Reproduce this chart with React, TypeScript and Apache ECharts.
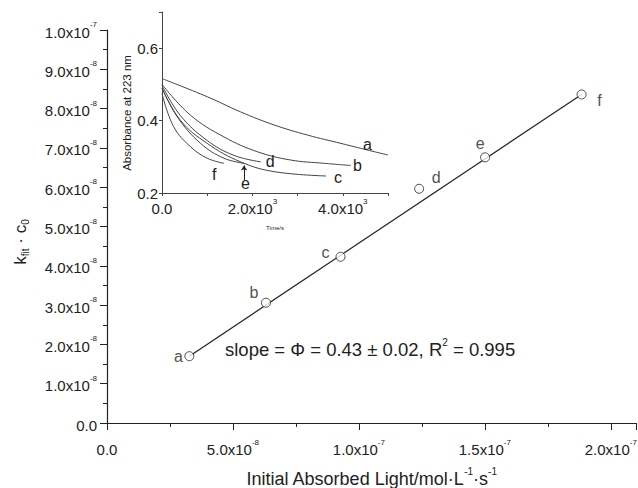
import React, { useEffect, useRef } from "react";
import * as echarts from "echarts";

// ---- Main plot data ----
const pointLabels = ["a", "b", "c", "d", "e", "f"];
const absorbedLight = [3.27e-8, 6.31e-8, 9.27e-8, 1.239e-7, 1.501e-7, 1.884e-7];
const kFitC0 = [1.7e-8, 3.06e-8, 4.23e-8, 5.96e-8, 6.76e-8, 8.36e-8];
const fitX = [3.27e-8, 1.884e-7];
const fitY = [1.7e-8, 8.36e-8];

// ---- Inset data (Absorbance at 223 nm vs Time/s) ----
const curveNames = ["a", "b", "c", "d", "e", "f"];
const timeA = [0, 1000, 1740, 2480, 3220, 3960, 4700, 5000];
const absA = [0.516, 0.466, 0.424, 0.388, 0.36, 0.337, 0.314, 0.305];
const timeB = [0, 630, 1370, 2110, 2850, 3590, 4180];
const absB = [0.5, 0.415, 0.355, 0.314, 0.291, 0.282, 0.276];
const timeC = [0, 407, 1000, 1740, 2480, 3630];
const absC = [0.49, 0.401, 0.337, 0.286, 0.259, 0.247];
const timeD = [0, 407, 1000, 1590, 2185];
const absD = [0.497, 0.414, 0.345, 0.304, 0.286];
const timeE = [0, 340, 855, 1370, 1815];
const absE = [0.49, 0.41, 0.337, 0.296, 0.282];
const timeF = [0, 258, 630, 1000, 1370];
const absF = [0.475, 0.383, 0.328, 0.296, 0.282];
const arrowTime = 1815;
const arrowAbs = [0.236, 0.276];

// ---- Styles ----
const FONT = "'Liberation Sans', Arial, sans-serif";
const INK = "#222";
const pointLabelOffsets = [
  [-11, 0],
  [-12, -10],
  [-15, -4],
  [17, -11],
  [-5, -14],
  [18, 6],
];
const curveLabelOffsets = [
  [-25, -10],
  [2, 0],
  [8, 2],
  [5, 0],
  [-3, 20],
  [-12, 11],
];

const supRich = (size: number, supSize: number) => ({
  m: { fontSize: size, fontFamily: FONT, color: INK, verticalAlign: "bottom", lineHeight: size + 4 },
  s: { fontSize: supSize, fontFamily: FONT, color: INK, verticalAlign: "top", lineHeight: supSize + 2 },
});

function sciLabel(v: number, step: number) {
  if (Math.abs(v) < 1e-20) return "{m|0.0}";
  const r = v / step;
  if (Math.abs(r - Math.round(r)) > 1e-6) return "";
  const exp = Math.floor(Math.log10(v) + 1e-9);
  const m = v / Math.pow(10, exp);
  return `{m|${m.toFixed(1)}x10}{s|${exp}}`;
}

export default function App() {
  const ref = useRef<HTMLDivElement>(null);
  useEffect(() => {
    if (!ref.current) return;
    const chart = echarts.init(ref.current, null, { renderer: "svg" });
    const insetTimes = [timeA, timeB, timeC, timeD, timeE, timeF];
    const insetAbs = [absA, absB, absC, absD, absE, absF];

    const insetSeries = curveNames.map((name, i) => ({
      type: "line",
      name,
      xAxisIndex: 1,
      yAxisIndex: 1,
      data: insetTimes[i].map((t, j) => [t, insetAbs[i][j]]),
      smooth: 0.4,
      showSymbol: false,
      symbol: "none",
      lineStyle: { color: "#444", width: 1 },
      endLabel: {
        show: true,
        formatter: name,
        distance: 0,
        offset: curveLabelOffsets[i],
        fontSize: 16,
        fontFamily: FONT,
        color: INK,
        textBorderWidth: 0,
      },
      markLine:
        name === "e"
          ? {
              silent: true,
              symbol: ["none", "arrow"],
              symbolSize: 5,
              label: { show: false },
              lineStyle: { color: INK, width: 1, type: "solid" },
              data: [[{ coord: [arrowTime, arrowAbs[0]] }, { coord: [arrowTime, arrowAbs[1]] }]],
            }
          : undefined,
    }));

    const option: any = {
      animation: false,
      textStyle: { fontFamily: FONT },
      grid: [
        { left: 107, top: 30, width: 529, height: 393, outerBoundsMode: "none", containLabel: false },
        { left: 162, top: 12, width: 226, height: 181, outerBoundsMode: "none", containLabel: false },
      ],
      xAxis: [
        {
          type: "value",
          gridIndex: 0,
          min: 0,
          max: 2.1e-7,
          interval: 5e-8,
          axisLine: { lineStyle: { color: INK, width: 1.2 } },
          axisTick: { length: 7, lineStyle: { color: INK } },
          minorTick: { show: true, splitNumber: 2, length: 4, lineStyle: { color: INK } },
          splitLine: { show: false },
          axisLabel: {
            margin: 15,
            showMaxLabel: false,
            formatter: (v: number) => sciLabel(v, 5e-8),
            rich: supRich(15, 8),
          },
          name: "{m|Initial Absorbed Light/mol·L}{s|-1}{m|·s}{s|-1}",
          nameLocation: "middle",
          nameGap: 43,
          nameTextStyle: { rich: supRich(18, 10) },
        },
        {
          type: "value",
          gridIndex: 1,
          min: 0,
          max: 5000,
          interval: 1000,
          axisLine: { lineStyle: { color: "#444", width: 1 } },
          axisTick: { length: 3, lineStyle: { color: "#444" } },
          splitLine: { show: false },
          axisLabel: {
            margin: 4,
            formatter: (v: number) => {
              if (v === 0) return "{m|0.0}";
              if (v % 2000 !== 0) return "";
              return `{m|${(v / 1000).toFixed(1)}x10}{s|3}`;
            },
            rich: supRich(15, 8),
          },
          name: "Time/s",
          nameLocation: "middle",
          nameGap: 32,
          nameTextStyle: { fontSize: 6, color: INK, fontFamily: FONT },
        },
      ],
      yAxis: [
        {
          type: "value",
          gridIndex: 0,
          min: 0,
          max: 1e-7,
          interval: 1e-8,
          axisLine: { show: true, lineStyle: { color: INK, width: 1.2 } },
          axisTick: { show: true, length: 7, lineStyle: { color: INK } },
          minorTick: { show: true, splitNumber: 2, length: 4, lineStyle: { color: INK } },
          splitLine: { show: false },
          axisLabel: {
            margin: 10,
            formatter: (v: number) => sciLabel(v, 1e-8),
            rich: supRich(15, 8),
          },
        },
        {
          type: "value",
          gridIndex: 1,
          min: 0.2,
          max: 0.7,
          interval: 0.2,
          axisLine: { show: true, lineStyle: { color: "#444", width: 1 } },
          axisTick: { show: true, length: 3, lineStyle: { color: "#444" } },
          splitLine: { show: false },
          axisLabel: {
            margin: 4,
            fontSize: 15,
            color: INK,
            formatter: (v: number) => {
              const r = v / 0.2;
              if (Math.abs(r - Math.round(r)) > 1e-6) return "";
              return v.toFixed(1);
            },
          },
        },
      ],
      series: [
        {
          type: "line",
          xAxisIndex: 0,
          yAxisIndex: 0,
          data: fitX.map((x, i) => [x, fitY[i]]),
          symbol: "none",
          lineStyle: { color: INK, width: 1.2 },
          z: 2,
        },
        {
          type: "scatter",
          xAxisIndex: 0,
          yAxisIndex: 0,
          symbol: "circle",
          symbolSize: 9,
          itemStyle: { color: "#fff", borderColor: INK, borderWidth: 1 },
          z: 3,
          data: absorbedLight.map((x, i) => ({
            value: [x, kFitC0[i]],
            label: {
              show: true,
              formatter: pointLabels[i],
              position: "inside",
              offset: pointLabelOffsets[i],
              fontSize: 16,
              fontFamily: FONT,
              color: INK,
              textBorderWidth: 0,
            },
          })),
        },
        ...insetSeries,
      ],
      graphic: [
        {
          type: "text",
          x: 21,
          y: 242,
          rotation: Math.PI / 2,
          style: {
            text: "{k|k}{s|fit}{k| · c}{s|0}",
            align: "center",
            verticalAlign: "middle",
            rich: {
              k: { fontSize: 17, fontFamily: FONT, fill: INK, color: INK, verticalAlign: "top", lineHeight: 19 },
              s: { fontSize: 10, fontFamily: FONT, fill: INK, color: INK, verticalAlign: "bottom", lineHeight: 10 },
            },
          },
        },
        {
          type: "text",
          x: 127,
          y: 113,
          rotation: Math.PI / 2,
          style: {
            text: "Absorbance at 223 nm",
            align: "center",
            verticalAlign: "middle",
            fontSize: 11.5,
            fontFamily: FONT,
            fill: INK,
          },
        },
        {
          type: "text",
          x: 225,
          y: 348,
          style: {
            text: "{m|slope = Φ = 0.43 ± 0.02, R}{s|2}{m| = 0.995}",
            align: "left",
            verticalAlign: "middle",
            rich: {
              m: { fontSize: 18.5, fontFamily: FONT, fill: INK, color: INK, verticalAlign: "bottom", lineHeight: 22 },
              s: { fontSize: 10, fontFamily: FONT, fill: INK, color: INK, verticalAlign: "top", lineHeight: 12 },
            },
          },
        },
      ],
    };
    chart.setOption(option);
    return () => chart.dispose();
  }, []);
  return <div ref={ref} style={{ width: 638, height: 488, position: "absolute", left: 0, top: 0, background: "#fff" }} />;
}
